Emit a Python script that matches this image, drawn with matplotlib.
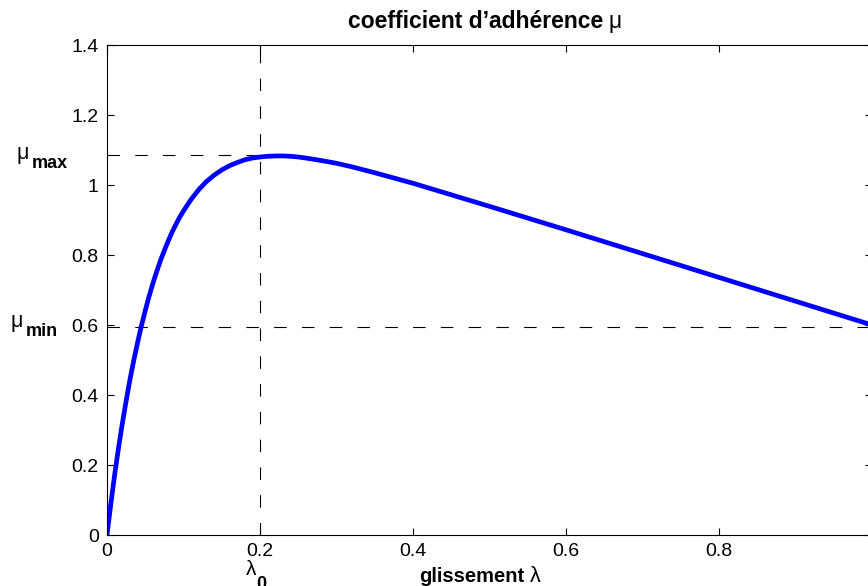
import matplotlib
matplotlib.use('Agg')
import matplotlib.pyplot as plt
import numpy as np

plt.rcParams['font.family'] = ['Liberation Sans', 'DejaVu Sans']
plt.rcParams['lines.scale_dashes'] = False

# glissement lambda / coefficient d'adherence mu
slip = [0, 0.005, 0.01, 0.015, 0.02, 0.025, 0.03, 0.035, 0.04, 0.045, 0.05,
        0.055, 0.06, 0.065, 0.07, 0.075, 0.08, 0.085, 0.09, 0.095, 0.10,
        0.11, 0.12, 0.13, 0.14, 0.15, 0.16, 0.17, 0.18, 0.19, 0.20,
        0.21, 0.22, 0.23, 0.24, 0.25, 0.26, 0.28, 0.30, 0.32, 0.35,
        0.40, 0.45, 0.50, 0.60, 0.70, 0.80, 0.90, 1.00]
mu = [0, 0.089, 0.172, 0.248, 0.318, 0.383, 0.444, 0.499, 0.550, 0.598, 0.641,
      0.682, 0.719, 0.753, 0.785, 0.813, 0.840, 0.865, 0.887, 0.908, 0.926,
      0.959, 0.987, 1.010, 1.028, 1.043, 1.055, 1.064, 1.072, 1.077, 1.080,
      1.082, 1.083, 1.083, 1.082, 1.080, 1.077, 1.070, 1.062, 1.052, 1.035,
      1.005, 0.972, 0.939, 0.872, 0.804, 0.736, 0.668, 0.600]

lambda0 = 0.2
mu_max = 1.085
mu_min = 0.595

xticks = [0, 0.2, 0.4, 0.6, 0.8, 1]
xticklabels = ['0', '0.2', '0.4', '0.6', '0.8', '1']
yticks = [0, 0.2, 0.4, 0.6, 0.8, 1, 1.2, 1.4]
yticklabels = ['0', '0.2', '0.4', '0.6', '0.8', '1', '1.2', '1.4']

W, H = 868, 586
fig = plt.figure(figsize=(W / 100, H / 100), dpi=100)
ax = fig.add_axes([107 / W, 51 / H, 765 / W, 490 / H])

def px(x, y):
    # position en pixels depuis le coin haut-gauche
    return x / W, 1 - y / H

dash = (0, (9, 11))
ax.plot([lambda0, lambda0], [0, 1.4], color='k', lw=0.8, linestyle=dash)
ax.plot([0, lambda0], [mu_max, mu_max], color='k', lw=0.8, linestyle=dash)
ax.plot([0, 1], [mu_min, mu_min], color='k', lw=0.8, linestyle=dash)
ax.plot(slip, mu, color='#0000ff', lw=3.4, solid_capstyle='butt')

ax.set_xlim(0, 1)
ax.set_ylim(0, 1.4)
ax.set_xticks(xticks)
ax.set_xticklabels(xticklabels)
ax.set_yticks(yticks)
ax.set_yticklabels(yticklabels)
ax.tick_params(direction='in', length=5, width=0.8, top=True, right=True,
               labelsize=14, pad=6)
for s in ax.spines.values():
    s.set_linewidth(0.8)

# mu_max, mu_min, lambda_0
fig.text(*px(17, 159), 'μ', fontsize=15.5, va='baseline')
fig.text(*px(32, 168), 'max', fontsize=13, fontweight='bold', va='baseline')
fig.text(*px(11, 327), 'μ', fontsize=15.5, va='baseline')
fig.text(*px(26, 336), 'min', fontsize=13, fontweight='bold', va='baseline')
fig.text(*px(246, 575), 'λ', fontsize=15, va='baseline')
fig.text(*px(256, 589), '0', fontsize=13, fontweight='bold', va='baseline')

fig.text(*px(419, 582), 'glissement', fontsize=14.5, fontweight='bold', va='baseline')
fig.text(*px(530, 582), 'λ', fontsize=15.5, va='baseline')
fig.text(*px(348, 28), 'coefficient d\u2019adhérence', fontsize=16.5,
         fontweight='bold', va='baseline')
fig.text(*px(609, 28), 'μ', fontsize=16.5, va='baseline')

fig.savefig('out.png', dpi=100)
